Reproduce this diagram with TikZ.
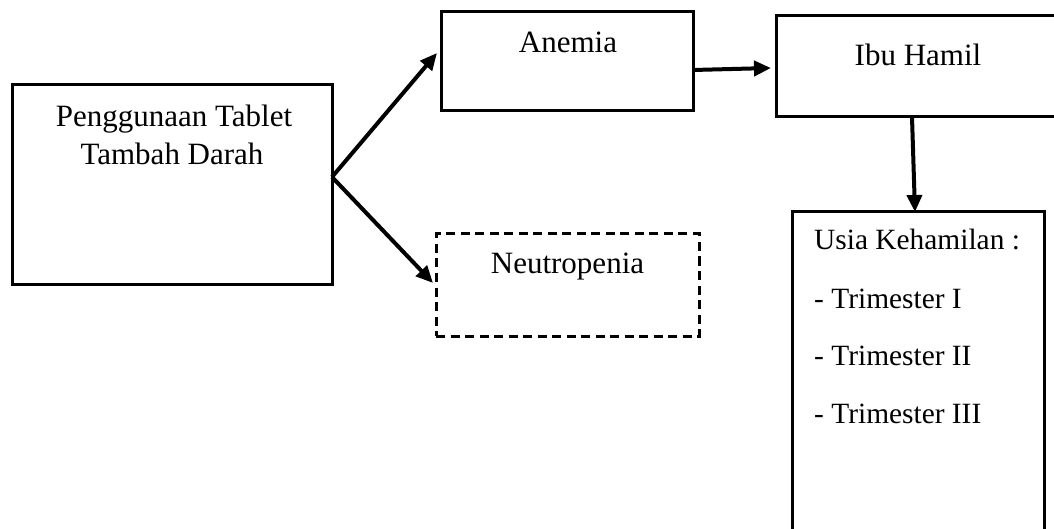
\documentclass[tikz,border=0pt]{standalone}
\usepackage{fontspec}
\setmainfont{Liberation Serif}
\usetikzlibrary{arrows.meta}
\begin{document}
\begin{tikzpicture}[x=1pt,y=-1pt,
  boxstyle/.style={draw=black,line width=3pt,inner sep=0pt,outer sep=0pt,rectangle},
  dashbox/.style={boxstyle,dash pattern=on 9pt off 5.5pt},
  txt/.style={inner sep=0pt,font=\fontsize{31}{38}\selectfont},
  ltxt/.style={inner sep=0pt,font=\fontsize{29.4}{36}\selectfont},
  arr/.style={line width=4pt,-{Triangle[length=17pt,width=15pt]}}]
\clip (0,0) rectangle (1054,529);
\fill[white] (0,0) rectangle (1054,529);
\node[boxstyle,minimum width=320pt,minimum height=199pt] (b1) at (172,184.5) {};
\node[boxstyle,minimum width=252pt,minimum height=99pt] (anemia) at (567,61.5) {};
\node[boxstyle,minimum width=284pt,minimum height=101pt] (ibu) at (918,66.5) {};
\node[dashbox,minimum width=263pt,minimum height=102pt] (neut) at (567.5,285) {};
\node[boxstyle,minimum width=252pt,minimum height=328pt] (usia) at (918,376) {};
% texts
\node[txt,anchor=base] (t1) at (174,127) {Penggunaan Tablet};
\node[txt,anchor=base] (t2) at (172,165) {Tambah Darah};
\node[txt,anchor=base] (ta) at (568,53) {Anemia};
\node[txt,anchor=base] (ti) at (918,66) {Ibu Hamil};
\node[txt,anchor=base] (tn) at (567.5,273) {Neutropenia};
\node[ltxt,anchor=base west] (u0) at (814,250) {Usia Kehamilan :};
\node[ltxt,anchor=base west] (u1) at (814,308) {- Trimester I};
\node[ltxt,anchor=base west] (u2) at (814,365.5) {- Trimester II};
\node[ltxt,anchor=base west] (u3) at (814,423) {- Trimester III};
% connectors
\coordinate (split) at ([yshift=7.5pt]b1.east);
\draw[arr] (split) -- ([xshift=-4pt,yshift=8.5pt]anemia.west);
\draw[arr] (split) -- ([xshift=-3pt,yshift=2pt]neut.west);
\draw[arr] ([yshift=-8.5pt]anemia.east) -- ([xshift=-5pt,yshift=-1.5pt]ibu.west);
\draw[arr] ([xshift=-6pt]ibu.south) -- ([xshift=-3pt]usia.north);
\end{tikzpicture}
\end{document}
